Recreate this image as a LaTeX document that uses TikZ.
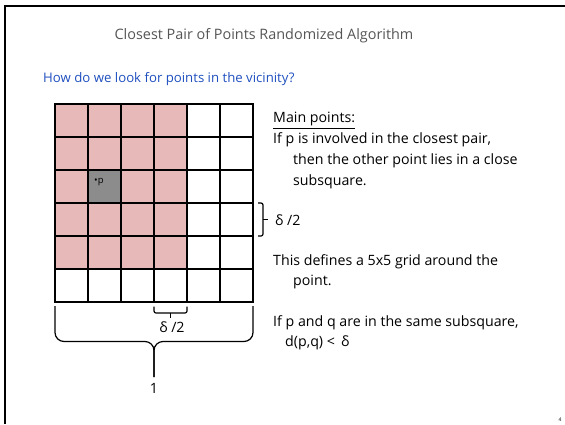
\documentclass[tikz,border=0pt]{standalone}
\usepackage{fontspec}
\setmainfont{Open Sans}
\usetikzlibrary{positioning}
\definecolor{cpink}{HTML}{E8B9B9}
\definecolor{cgrey}{HTML}{8C8C8C}
\definecolor{ctitle}{HTML}{555555}
\definecolor{cblue}{HTML}{1F4FBF}
\tikzset{
  title/.style={font=\fontsize{14.4}{17}\selectfont, text=ctitle, inner sep=0pt, anchor=base},
  question/.style={font=\fontsize{13.2}{15}\selectfont, text=cblue, inner sep=0pt, anchor=base west},
  body/.style={font=\fontsize{14.2}{20.7}\selectfont, inner sep=0pt, align=left, anchor=base west},
  cell/.style={draw, line width=1.3pt, minimum size=33pt, inner sep=0pt, outer sep=0pt},
  bracket/.style={line width=1.2pt, rounded corners=#1},
  bracket/.default=2pt,
  ptlabel/.style={font=\fontsize{9.5}{10}\selectfont, inner sep=0pt, anchor=base west},
}
\begin{document}
\begin{tikzpicture}[x=1pt, y=-1pt]
  \useasboundingbox (0,0) rectangle (565,424);
  % slide frame, top and left only
  \draw[line width=2pt] (5,424) -- (5,6) -- (565,6);
  \node[title] (title) at (264,39) {Closest Pair of Points Randomized Algorithm};
  \node[question] (question) at (43,82.5) {How do we look for points in the vicinity?};
  % 6x6 grid of subsquares
  \foreach \c in {0,...,5} \foreach \r in {0,...,5} {
    \def\fillc{white}
    \ifnum\c<4 \ifnum\r<5 \def\fillc{cpink}\fi\fi
    \ifnum\c=1 \ifnum\r=2 \def\fillc{cgrey}\fi\fi
    \node[cell, fill=\fillc] (c-\c-\r) at (71.5+33*\c, 120.5+33*\r) {};
  }
  \node[ptlabel] (p) at ([xshift=6pt, yshift=-13pt]c-1-2.north west) {•p};
  % braces
  \draw[bracket] (258,203) -- (263,203) -- (263,236) -- (258,236);
  \draw[line width=1.2pt] (263,219.5) -- (268,219.5);
  \node[body] (half right) at (275,225) {δ /2};
  \draw[bracket] (154,306.5) -- (154,313) -- (187,313) -- (187,306.5);
  \draw[line width=1.2pt] (170.5,313) -- (170.5,318);
  \node[body, anchor=center] (half below) at (172,327) {δ /2};
  \draw[bracket=9pt] (55,306) -- (55,341.5) -- (154,341.5) -- (154,377);
  \draw[bracket=9pt] (253,306) -- (253,341.5) -- (154,341.5) -- (154,377);
  \node[body, anchor=center] (one) at (154,388) {1};
  % text on the right (base = last line)
  \node[body] (main) at (273,185) {\underline{Main points:}\\
    If p is involved in the closest pair,\\
    \hspace*{20pt}then the other point lies in a close\\
    \hspace*{20pt}subsquare.};
  \node[body] (grid) at (273,285.7) {This defines a 5x5 grid around the\\
    \hspace*{20pt}point.};
  \node[body] (same) at (273,346.7) {If p and q are in the same subsquare,\\
    \hspace*{12pt}d(p,q) <\, δ};
  \node[font=\fontsize{5}{6}\selectfont, inner sep=0pt] (page) at (560,420) {4};
\end{tikzpicture}
\end{document}
